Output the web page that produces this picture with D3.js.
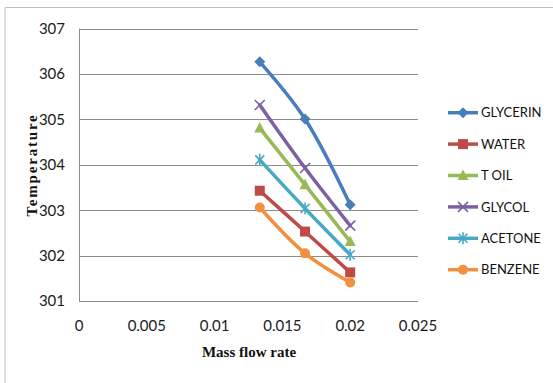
<!DOCTYPE html>
<html>
<head>
<meta charset="utf-8">
<script src="https://cdn.jsdelivr.net/npm/d3@7"></script>
<style>
  html, body { margin: 0; padding: 0; background: #fff; }
  svg { display: block; }
  .tick-label { font-family: Lato, "Liberation Sans", sans-serif; font-size: 15px; fill: #1a1a1a; }
  .legend-label { font-family: Lato, "Liberation Sans", sans-serif; font-size: 13px; fill: #111; }
  .axis-title { font-family: "Liberation Serif", "Times New Roman", serif; font-size: 15px; font-weight: bold; fill: #111; }
</style>
</head>
<body>
<svg id="chart" width="553" height="383"></svg>
<script>
// Mass flow rates (x) shared by all fluids
const flowRates = [0.01333, 0.01667, 0.02];

// Temperature readings per fluid
const glycerin = [306.27, 305.01, 303.12];
const water    = [303.43, 302.53, 301.63];
const tOil     = [304.81, 303.56, 302.31];
const glycol   = [305.32, 303.93, 302.66];
const acetone  = [304.11, 303.04, 302.02];
const benzene  = [303.06, 302.05, 301.41];

const seriesNames = ["GLYCERIN", "WATER", "T OIL", "GLYCOL", "ACETONE", "BENZENE"];
const seriesValues = [glycerin, water, tOil, glycol, acetone, benzene];
const seriesColors = ["#4A7EBB", "#BE4B48", "#98B954", "#7D60A0", "#46AAC5", "#F09040"];
const seriesMarkers = ["diamond", "square", "triangle", "x", "star", "circle"];

const xTicks = [0, 0.005, 0.01, 0.015, 0.02, 0.025];
const xTickLabels = ["0", "0.005", "0.01", "0.015", "0.02", "0.025"];
const yTicks = [301, 302, 303, 304, 305, 306, 307];

const svg = d3.select("#chart");

// Outer chart frame (left and top edges visible)
svg.append("path")
  .attr("d", "M5,383 V7.5 H553")
  .attr("fill", "none")
  .attr("stroke", "#BFBFBF")
  .attr("stroke-width", 1);

const plot = { left: 79, right: 418, top: 28.7, bottom: 301 };

const x = d3.scaleLinear().domain([0, 0.025]).range([plot.left, plot.right]);
const y = d3.scaleLinear().domain([301, 307]).range([plot.bottom, plot.top]);

// Horizontal gridlines
svg.append("g")
  .selectAll("line")
  .data(yTicks.filter(t => t !== 301))
  .join("line")
  .attr("x1", plot.left).attr("x2", plot.right)
  .attr("y1", d => Math.round(y(d)) + 0.5).attr("y2", d => Math.round(y(d)) + 0.5)
  .attr("stroke", "#8C8C8C").attr("stroke-width", 1);

// Axis lines
svg.append("line")
  .attr("x1", plot.left + 0.5).attr("x2", plot.left + 0.5)
  .attr("y1", plot.top).attr("y2", plot.bottom)
  .attr("stroke", "#8C8C8C");
svg.append("line")
  .attr("x1", plot.left).attr("x2", plot.right)
  .attr("y1", Math.round(plot.bottom) + 0.5).attr("y2", Math.round(plot.bottom) + 0.5)
  .attr("stroke", "#8C8C8C");

// Y tick labels
svg.append("g")
  .selectAll("text")
  .data(yTicks)
  .join("text")
  .attr("class", "tick-label")
  .attr("x", 65)
  .attr("y", d => y(d))
  .attr("dy", "0.36em")
  .attr("text-anchor", "end")
  .text(d => d);

// X tick labels
svg.append("g")
  .selectAll("text")
  .data(xTicks)
  .join("text")
  .attr("class", "tick-label")
  .attr("x", d => x(d))
  .attr("y", 331)
  .attr("text-anchor", "middle")
  .text((d, i) => xTickLabels[i]);

// Axis titles
svg.append("text")
  .attr("class", "axis-title")
  .attr("x", 249).attr("y", 357)
  .attr("text-anchor", "middle")
  .text("Mass flow rate");

svg.append("text")
  .attr("class", "axis-title")
  .attr("transform", "translate(37,165) rotate(-90)")
  .attr("text-anchor", "middle")
  .attr("letter-spacing", "1.8px")
  .text("Temperature");

// Marker drawing helper
function drawMarker(g, type, color) {
  switch (type) {
    case "diamond":
      g.append("path").attr("d", "M0,-5.5 L5.5,0 L0,5.5 L-5.5,0 Z").attr("fill", color);
      break;
    case "square":
      g.append("rect").attr("x", -5).attr("y", -5).attr("width", 10).attr("height", 10).attr("fill", color);
      break;
    case "triangle":
      g.append("path").attr("d", "M0,-6 L5.5,4.5 L-5.5,4.5 Z").attr("fill", color);
      break;
    case "x":
      g.append("path").attr("d", "M-5,-5 L5,5 M-5,5 L5,-5").attr("stroke", color).attr("stroke-width", 1.6);
      break;
    case "star":
      g.append("path").attr("d", "M-4.5,-4.5 L4.5,4.5 M-4.5,4.5 L4.5,-4.5 M0,-6 L0,6").attr("stroke", color).attr("stroke-width", 1.6);
      break;
    case "circle":
      g.append("circle").attr("r", 5).attr("fill", color);
      break;
  }
}

const line = d3.line()
  .x(d => x(d[0]))
  .y(d => y(d[1]))
  .curve(d3.curveCatmullRom.alpha(0.5));

// Series lines and markers
seriesValues.forEach((vals, i) => {
  const pts = flowRates.map((f, j) => [f, vals[j]]);
  const g = svg.append("g");
  g.append("path")
    .attr("d", line(pts))
    .attr("fill", "none")
    .attr("stroke", seriesColors[i])
    .attr("stroke-width", 3.5)
    .attr("stroke-linecap", "round");
  pts.forEach(p => {
    const m = g.append("g").attr("transform", `translate(${x(p[0])},${y(p[1])})`);
    drawMarker(m, seriesMarkers[i], seriesColors[i]);
  });
});

// Legend
const legend = svg.append("g");
seriesNames.forEach((name, i) => {
  const ly = 112.7 + i * 31.4;
  const row = legend.append("g");
  row.append("line")
    .attr("x1", 448).attr("x2", 478)
    .attr("y1", ly).attr("y2", ly)
    .attr("stroke", seriesColors[i]).attr("stroke-width", 3.5);
  const m = row.append("g").attr("transform", `translate(463,${ly})`);
  drawMarker(m, seriesMarkers[i], seriesColors[i]);
  row.append("text")
    .attr("class", "legend-label")
    .attr("x", 481).attr("y", ly)
    .attr("dy", "0.36em")
    .text(name);
});
</script>
</body>
</html>
